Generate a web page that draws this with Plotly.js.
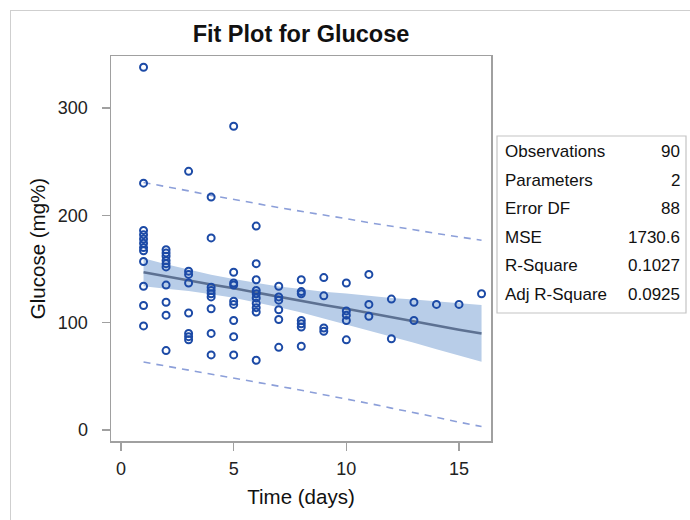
<!DOCTYPE html>
<html>
<head>
<meta charset="utf-8">
<script src="https://cdn.plot.ly/plotly-3.0.1.min.js"></script>
<style>
  html, body { margin:0; padding:0; background:#fff; }
  #wrap { position:relative; width:690px; height:520px; overflow:hidden; }
  #chart { width:690px; height:520px; }
  #frame { position:absolute; left:10px; top:10px; width:720px; height:560px; border:1px solid #cfcfcf; pointer-events:none; }
</style>
</head>
<body>
<div id="wrap"><div id="chart"></div><div id="frame"></div></div>
<script>
// Observed data: time (days) and glucose (mg%)
const timeDays = [
  1,1,1,1,1,1,1,1,1,1,1,1,
  2,2,2,2,2,2,2,2,2,2,
  3,3,3,3,3,3,3,3,
  4,4,4,4,4,4,4,4,4,
  5,5,5,5,5,5,5,5,5,
  6,6,6,6,6,6,6,6,6,6,
  7,7,7,7,7,7,
  8,8,8,8,8,8,8,
  9,9,9,9,
  10,10,10,10,10,
  11,11,11,
  12,12,
  13,13,
  14,15,16
];
const glucose = [
  338,230,186,182,178,174,170,167,157,134,116,97,
  168,165,162,158,155,152,135,119,107,74,
  241,148,145,137,109,90,87,84,
  217,179,133,130,127,124,113,90,70,
  283,147,137,135,120,117,102,87,70,
  190,155,140,130,127,123,118,114,110,65,
  134,124,121,112,103,77,
  140,129,127,102,99,96,78,
  142,125,95,92,
  137,111,107,102,84,
  145,117,106,
  122,85,
  119,102,
  117,117,127
];

// Fit line, 95% confidence band and 95% prediction limits read at each x
const fitX     = [1,2,3,4,5,6,7,8,9,10,11,12,13,14,15,16];
const fitY     = [147,143,139.5,135.5,132,128,124,120.5,116.5,113,109,105,101.5,97.5,93.5,90];
const clmUpper = [160,154.4,149.6,144.6,140.7,136.9,133.7,131.4,128.9,127.2,125,123,121.6,119.7,117.8,116.5];
const clmLower = [134,131.6,129.5,126.4,123.3,119.1,114.3,109.6,104.1,98.8,93,87,81.4,75.3,69.2,63.5];
const pliUpper = [230.7,226.4,222.8,218.6,215.1,211.1,207.2,203.9,200.1,196.9,193.2,189.6,186.6,183.1,179.7,176.8];
const pliLower = [63.3,59.6,56.2,52.4,48.9,44.9,40.8,37.1,32.9,29.1,24.8,20.4,16.4,11.9,7.3,3.2];

// Fit statistics table
const statLabels = ["Observations","Parameters","Error DF","MSE","R-Square","Adj R-Square"];
const statValues = ["90","2","88","1730.6","0.1027","0.0925"];

const xTicks = [0,5,10,15];
const yTicks = [0,100,200,300];

const FONT = "Liberation Sans, Arial, sans-serif";

const traces = [
  {
    x: fitX.concat(fitX.slice().reverse()),
    y: clmUpper.concat(clmLower.slice().reverse()),
    type: "scatter", mode: "lines", fill: "toself",
    fillcolor: "rgba(184,205,232,1)", line: {width: 0},
    hoverinfo: "skip", showlegend: false
  },
  {
    x: fitX, y: fitY, type: "scatter", mode: "lines",
    line: {color: "#5d7192", width: 2.6}, showlegend: false
  },
  {
    x: fitX, y: pliUpper, type: "scatter", mode: "lines",
    line: {color: "#8c9fd9", width: 1.6, dash: "7px,6px"}, showlegend: false
  },
  {
    x: fitX, y: pliLower, type: "scatter", mode: "lines",
    line: {color: "#8c9fd9", width: 1.6, dash: "7px,6px"}, showlegend: false
  },
  {
    x: timeDays, y: glucose, type: "scatter", mode: "markers",
    marker: {symbol: "circle-open", size: 7, color: "#1c4aa6", line: {width: 2}},
    showlegend: false
  }
];

// plot area: px 111..491 horizontally, 56..441 vertically
const PL = 111, PR = 491, PT = 56, PB = 441;
const px2paperX = p => (p - PL) / (PR - PL);
const py2paperY = p => (PB - p) / (PB - PT);

const rowY = [151.5, 180, 208.7, 237.3, 265.8, 294.3];
const annotations = [];
statLabels.forEach((lab, i) => {
  annotations.push({
    xref: "paper", yref: "paper", x: px2paperX(503), y: py2paperY(rowY[i]),
    xanchor: "left", yanchor: "middle", text: lab, showarrow: false,
    font: {family: FONT, size: 17, color: "#111"}
  });
  annotations.push({
    xref: "paper", yref: "paper", x: px2paperX(682), y: py2paperY(rowY[i]),
    xanchor: "right", yanchor: "middle", text: statValues[i], showarrow: false,
    font: {family: FONT, size: 17, color: "#111"}
  });
});

const layout = {
  width: 690, height: 520,
  margin: {l: PL, r: 690 - PR, t: PT, b: 520 - PB, pad: 0},
  paper_bgcolor: "#fff", plot_bgcolor: "#fff",
  title: {
    text: "<b>Fit Plot for Glucose</b>",
    font: {family: FONT, size: 23.5, color: "#111"},
    x: px2paperX(301), xref: "paper", xanchor: "center",
    y: 1 - 34/520, yanchor: "middle"
  },
  xaxis: {
    range: [-0.444, 16.42], tickvals: xTicks, ticktext: xTicks.map(String),
    ticks: "outside", ticklen: 8, tickcolor: "#a0a0a0", tickwidth: 1.5,
    showline: true, linecolor: "#a0a0a0", linewidth: 1.5, mirror: true,
    showgrid: false, zeroline: false, ticklabelstandoff: 3,
    tickfont: {family: FONT, size: 18, color: "#222"},
    title: {text: "Time (days)", font: {family: FONT, size: 20.5, color: "#111"}, standoff: 11}
  },
  yaxis: {
    range: [-10.25, 348.5], tickvals: yTicks, ticktext: yTicks.map(String),
    ticks: "outside", ticklen: 8, tickcolor: "#a0a0a0", tickwidth: 1.5,
    showline: true, linecolor: "#a0a0a0", linewidth: 1.5, mirror: true,
    showgrid: false, zeroline: false, ticklabelstandoff: 10,
    tickfont: {family: FONT, size: 18, color: "#222"},
    title: {text: "Glucose (mg%)", font: {family: FONT, size: 20.5, color: "#111"}, standoff: 6}
  },
  shapes: [
    {
      type: "rect", xref: "paper", yref: "paper",
      x0: px2paperX(497), x1: px2paperX(686),
      y0: py2paperY(313), y1: py2paperY(136),
      line: {color: "#c4c4c4", width: 1.2}, fillcolor: "rgba(0,0,0,0)"
    }
  ],
  annotations: annotations
};

Plotly.newPlot("chart", traces, layout, {displayModeBar: false, staticPlot: true});
</script>
</body>
</html>
